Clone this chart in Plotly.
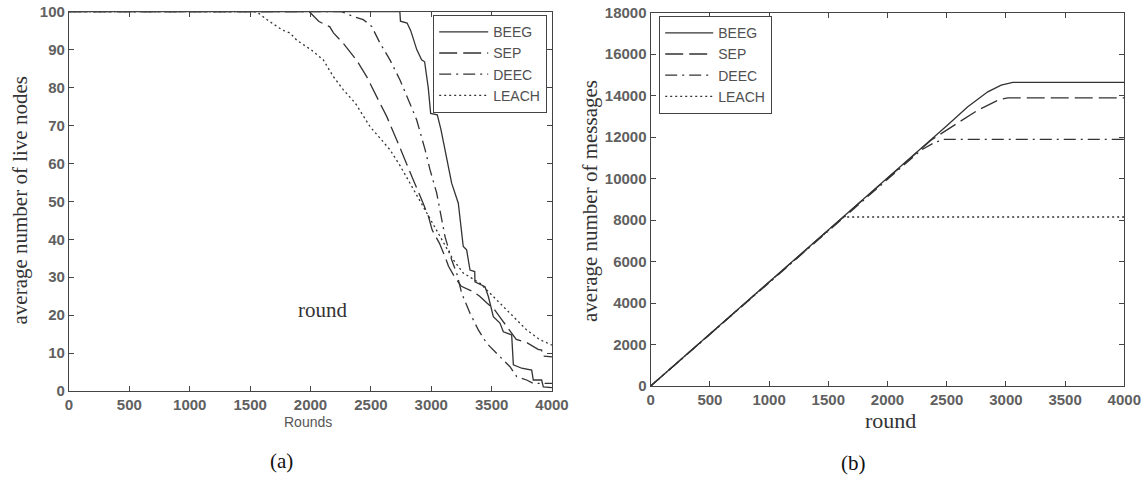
import plotly.graph_objects as go

# ---------------- data: panel (a) live nodes ----------------
beeg_rounds = [0, 2740, 2745, 2800, 2830, 2880, 2920, 2945, 2975, 2995, 3050, 3080, 3114, 3169, 3224,
               3265, 3293, 3321, 3360, 3362, 3445, 3473, 3514, 3569, 3597, 3666, 3680, 3749, 3832,
               3845, 3914, 3928, 4000]
beeg_alive = [100, 100, 97.5, 97, 95, 90, 87.3, 86.8, 80, 73.2, 72.8, 69, 63.6, 54.8, 49.5,
              38.1, 37.2, 31.9, 31.5, 28.8, 27.5, 24.9, 19.6, 17.9, 15.6, 14.8, 6.9, 6.0, 5.5,
              2.9, 2.9, 1.1, 0.9]

sep_rounds = [0, 1990, 2070, 2160, 2190, 2270, 2380, 2465, 2548, 2631, 2714, 2797, 2860, 2931, 2977,
              3007, 3067, 3113, 3143, 3189, 3249, 3340, 3401, 3461, 3522, 3582, 3643, 3704, 3795,
              3885, 3914, 3920, 4000]
sep_alive = [100, 100, 97.4, 96, 94.4, 91.7, 87.3, 82.9, 77.6, 72.4, 66.2, 60.1, 55, 49.6, 46,
             42.5, 39, 35.5, 32.9, 30.3, 27.6, 26.3, 25, 23.2, 21.5, 18.9, 16.2, 13.6, 12.7,
             11.0, 10.8, 9.2, 9.0]

deec_rounds = [0, 2258, 2350, 2437, 2507, 2576, 2658, 2741, 2810, 2879, 2950, 2990, 3045, 3087, 3114,
               3169, 3211, 3252, 3321, 3390, 3459, 3569, 3652, 3708, 3790, 3845, 4000]
deec_alive = [100, 100, 98.8, 97.9, 96.1, 91.7, 87.3, 82, 76.8, 71.5, 63.5, 58.3, 52.2, 45.1, 40.7,
              34.6, 31, 25.8, 20.5, 16.1, 12.6, 9.05, 6.4, 3.8, 2.9, 2.0, 2.0]

leach_rounds = [0, 1554, 1644, 1765, 1830, 1886, 2007, 2106, 2189, 2272, 2371, 2493, 2580, 2658, 2740,
                2824, 2900, 2962, 3072, 3182, 3265, 3404, 3514, 3652, 3790, 3900, 4000]
leach_alive = [100, 100, 97.8, 95.2, 94.4, 92.5, 89.9, 87.3, 82.9, 79.4, 75.9, 69.7, 66.5, 63.6, 59.5,
               54.8, 50.5, 46.9, 40.7, 34.6, 31.1, 28.4, 24.9, 20.5, 16.1, 13.5, 12.1]

# ---------------- data: panel (b) messages ----------------
beeg_msg_rounds = [0, 500, 1000, 1500, 2000, 2300, 2508, 2678, 2847, 2960, 3059, 4000]
beeg_msgs = [0, 2500, 5000, 7500, 10000, 11500, 12580, 13460, 14185, 14508, 14640, 14640]

sep_msg_rounds = [0, 1000, 2000, 2367, 2565, 2763, 2946, 3017, 4000]
sep_msgs = [0, 5000, 10000, 11850, 12580, 13300, 13817, 13895, 13895]

deec_msg_rounds = [0, 1000, 2000, 2282, 2400, 2480, 4000]
deec_msgs = [0, 5000, 10000, 11370, 11750, 11890, 11890]

leach_msg_rounds = [0, 1000, 1630, 4000]
leach_msgs = [0, 5000, 8150, 8150]

names = ["BEEG", "SEP", "DEEC", "LEACH"]
x_ticks = list(range(0, 4001, 500))

W, H = 1146, 479
LINE = "#333333"
dashes = {"BEEG": "solid", "SEP": "18px,6px", "DEEC": "12px,5px,2px,5px", "LEACH": "2px,3px"}

fig = go.Figure()

panel_a = [(beeg_rounds, beeg_alive), (sep_rounds, sep_alive),
           (deec_rounds, deec_alive), (leach_rounds, leach_alive)]
panel_b = [(beeg_msg_rounds, beeg_msgs), (sep_msg_rounds, sep_msgs),
           (deec_msg_rounds, deec_msgs), (leach_msg_rounds, leach_msgs)]

for name, (xs, ys) in zip(names, panel_a):
    fig.add_trace(go.Scatter(x=xs, y=ys, mode="lines", name=name, xaxis="x", yaxis="y",
                             legend="legend",
                             line=dict(color=LINE, width=1.3, dash=dashes[name])))
for name, (xs, ys) in zip(names, panel_b):
    fig.add_trace(go.Scatter(x=xs, y=ys, mode="lines", name=name, xaxis="x2", yaxis="y2",
                             legend="legend2",
                             line=dict(color=LINE, width=1.3, dash=dashes[name])))

tickfont = dict(family="Liberation Sans, Arial", size=15, color="#606060", weight="bold")
axis_common = dict(showline=True, linecolor="#444444", linewidth=1.3, mirror="ticks",
                   ticks="inside", ticklen=5, tickcolor="#444444", tickwidth=1.2,
                   showgrid=False, zeroline=False, tickfont=tickfont, automargin=False)

def px_x(p):
    return p / W

def px_y(p):
    return 1 - p / H

legend_font = dict(family="Liberation Sans, Arial", size=14, color="#505050")

fig.update_layout(
    width=W, height=H,
    margin=dict(l=0, r=0, t=0, b=0, autoexpand=False),
    paper_bgcolor="white", plot_bgcolor="white",
    xaxis=dict(domain=[px_x(69), px_x(552)], range=[0, 4000], tickvals=x_ticks,
               anchor="y", **axis_common),
    yaxis=dict(domain=[px_y(391), px_y(11.7)], range=[0, 100], dtick=10,
               anchor="x", **axis_common),
    xaxis2=dict(domain=[px_x(650.7), px_x(1124.3)], range=[0, 4000], tickvals=x_ticks,
                anchor="y2", **axis_common),
    yaxis2=dict(domain=[px_y(386), px_y(12.7)], range=[0, 18000], dtick=2000,
                tickformat="d", anchor="x2", **axis_common),
    legend=dict(x=px_x(433), y=px_y(15), xanchor="left", yanchor="top",
                bordercolor="#444444", borderwidth=1.2, bgcolor="white",
                font=legend_font, itemwidth=49),
    legend2=dict(x=px_x(659), y=px_y(16), xanchor="left", yanchor="top",
                 bordercolor="#444444", borderwidth=1.2, bgcolor="white",
                 font=legend_font, itemwidth=48),
    showlegend=True,
)

serif = "Liberation Serif, Times New Roman, serif"
ann = [
    dict(x=px_x(19), y=px_y(200.5), text="average number of live nodes", textangle=-90,
         font=dict(family=serif, size=21, color="#333333")),
    dict(x=px_x(308), y=px_y(422), text="Rounds",
         font=dict(family="Liberation Sans, Arial", size=14, color="#555555")),
    dict(x=px_x(322), y=px_y(310), text="round",
         font=dict(family=serif, size=21, color="#333333")),
    dict(x=px_x(281), y=px_y(461), text="(a)",
         font=dict(family=serif, size=21, color="#111111")),
    dict(x=px_x(590), y=px_y(201), text="average number of messages", textangle=-90,
         font=dict(family=serif, size=21, color="#333333")),
    dict(x=px_x(890.5), y=px_y(420), text="round",
         font=dict(family=serif, size=22, color="#333333")),
    dict(x=px_x(853), y=px_y(463), text="(b)",
         font=dict(family=serif, size=21, color="#111111")),
]
for a in ann:
    fig.add_annotation(xref="paper", yref="paper", showarrow=False,
                       xanchor="center", yanchor="middle", **a)

fig.write_html("out.html",
               config={"displayModeBar": False},
               post_script="document.body.style.margin='0';document.body.style.padding='0';")
